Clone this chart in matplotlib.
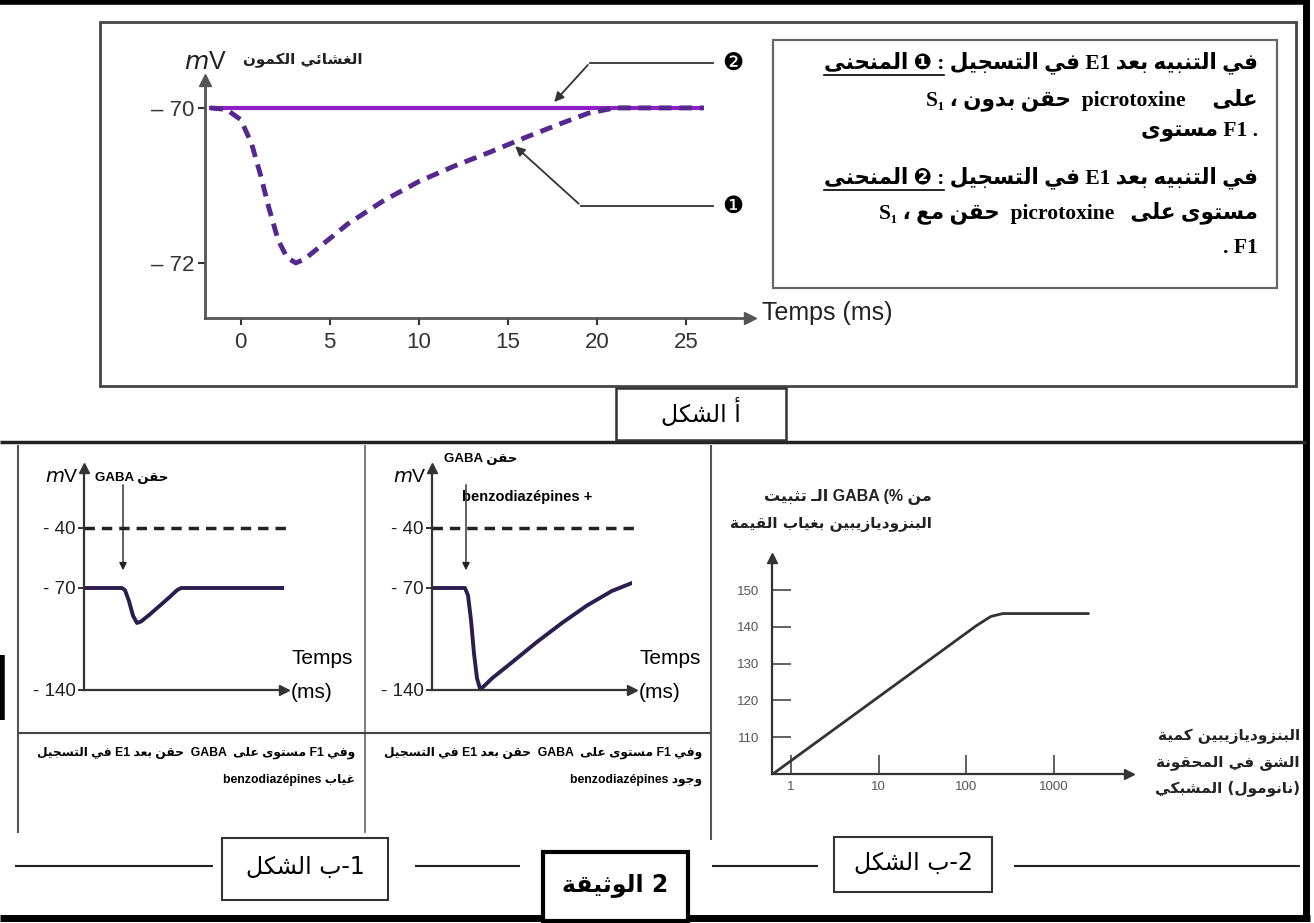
import re
import numpy as np
import matplotlib
matplotlib.use("Agg")
import matplotlib.pyplot as plt
from matplotlib.patches import Rectangle
from matplotlib.ticker import NullLocator

# %% données lues sur le document
# Figure a : potentiel membranaire (mV) en fonction du temps (ms)
t_courbe1 = [-1.7, -0.8, 0.0, 0.6, 1.1, 1.6, 2.1, 2.6, 3.1, 3.6, 4.5, 6.0, 8.0,
             10.0, 12.0, 14.0, 16.0, 18.0, 19.5, 21.0, 23.5, 26.0]
v_courbe1 = [-70.0, -70.02, -70.15, -70.45, -70.85, -71.3, -71.7, -71.93, -72.0,
             -71.95, -71.78, -71.5, -71.2, -70.95, -70.75, -70.57, -70.38, -70.2,
             -70.07, -70.0, -70.0, -70.0]
t_courbe2 = [-1.8, 26.0]
v_courbe2 = [-70.0, -70.0]
ticks_t_a = [0, 5, 10, 15, 20, 25]
ticks_v_a = [-70, -72]

# Figure b-1 : enregistrements schématiques (temps en unités arbitraires)
t_sans_bzd = [0, 3.8, 4.1, 4.5, 4.9, 5.3, 5.7, 6.6, 7.6, 8.6, 9.3, 9.7, 20.0]
v_sans_bzd = [-70, -70, -71.5, -79, -89, -94, -93, -88, -82, -76, -71.5, -70, -70]
t_avec_bzd = [0, 3.3, 3.6, 3.9, 4.2, 4.5, 4.8, 5.1, 6.0, 8.0, 10.5, 13.0, 15.5, 18.0, 20.0]
v_avec_bzd = [-70, -70, -75, -92, -115, -132, -139, -138, -132, -121, -107, -94, -82, -72, -67.5]
seuil = -40
ticks_v_b1 = [-40, -70, -140]
t_gaba = [3.9, 3.4]

# Figure b-2 : fixation du GABA (%) selon la quantité de benzodiazépines (nmol)
bzd_nmol = [0.62, 130, 190, 260, 2450]
fixation_gaba = [100, 140.3, 142.8, 143.6, 143.6]
ticks_x_b2 = [1, 10, 100, 1000]
ticks_y_b2 = [110, 120, 130, 140, 150]

# %% mise en forme de l'arabe (formes contextuelles, ordre visuel du document)
FORMES = {
    'ء': (0xFE80, 1), 'آ': (0xFE81, 2), 'أ': (0xFE83, 2), 'ؤ': (0xFE85, 2),
    'إ': (0xFE87, 2), 'ئ': (0xFE89, 4), 'ا': (0xFE8D, 2), 'ب': (0xFE8F, 4),
    'ة': (0xFE93, 2), 'ت': (0xFE95, 4), 'ث': (0xFE99, 4), 'ج': (0xFE9D, 4),
    'ح': (0xFEA1, 4), 'خ': (0xFEA5, 4), 'د': (0xFEA9, 2), 'ذ': (0xFEAB, 2),
    'ر': (0xFEAD, 2), 'ز': (0xFEAF, 2), 'س': (0xFEB1, 4), 'ش': (0xFEB5, 4),
    'ص': (0xFEB9, 4), 'ض': (0xFEBD, 4), 'ط': (0xFEC1, 4), 'ظ': (0xFEC5, 4),
    'ع': (0xFEC9, 4), 'غ': (0xFECD, 4), 'ف': (0xFED1, 4), 'ق': (0xFED5, 4),
    'ك': (0xFED9, 4), 'ل': (0xFEDD, 4), 'م': (0xFEE1, 4), 'ن': (0xFEE5, 4),
    'ه': (0xFEE9, 4), 'و': (0xFEED, 2), 'ى': (0xFEEF, 2), 'ي': (0xFEF1, 4),
}
LAM_ALEF = {'آ': 0xFEF5, 'أ': 0xFEF7, 'إ': 0xFEF9, 'ا': 0xFEFB}


def lie_suivant(u):
    genre, c = u
    if genre == 'LA':
        return False
    if c == 'ـ':
        return True
    return FORMES[c][1] == 4


def forme_mot(mot):
    unites = []
    i = 0
    while i < len(mot):
        if mot[i] == 'ل' and i + 1 < len(mot) and mot[i + 1] in LAM_ALEF:
            unites.append(('LA', mot[i + 1]))
            i += 2
        else:
            unites.append(('C', mot[i]))
            i += 1
    sortie = []
    for k, (genre, c) in enumerate(unites):
        avant = k > 0 and lie_suivant(unites[k - 1])
        apres = k + 1 < len(unites)
        if genre == 'LA':
            sortie.append(chr(LAM_ALEF[c] + (1 if avant else 0)))
            continue
        if c == 'ـ':
            sortie.append(c)
            continue
        base, n = FORMES[c]
        if n == 1:
            f = 0
        elif n == 2:
            f = 1 if avant else 0
        else:
            f = {(0, 0): 0, (1, 0): 1, (0, 1): 2, (1, 1): 3}[(int(avant), int(apres))]
        sortie.append(chr(base + f))
    return ''.join(reversed(sortie))


def ar(s):
    return re.sub('[\u0621-\u064A\u0640]+', lambda m: forme_mot(m.group(0)), s)


# %% figure
W, H = 1314, 923
fig = plt.figure(figsize=(W / 100, H / 100), dpi=100)
bg = fig.add_axes([0, 0, 1, 1], zorder=0)
bg.set_xlim(0, W)
bg.set_ylim(H, 0)
bg.axis("off")

AR = ["DejaVu Sans"]
MIX = ["Liberation Sans", "DejaVu Sans"]
SERIF = ["Liberation Serif", "DejaVu Sans"]


def ax_px(x0, y0, x1, y1):
    a = fig.add_axes([x0 / W, 1 - y1 / H, (x1 - x0) / W, (y1 - y0) / H], zorder=2)
    a.set_facecolor("none")
    return a


def trait(x, y, c="#222222", lw=1.5):
    bg.plot(x, y, color=c, lw=lw, solid_capstyle="butt")


def boite(x0, y0, x1, y1, lw=1.5, c="#333333"):
    bg.add_patch(Rectangle((x0, y0), x1 - x0, y1 - y0, fc="white", ec=c, lw=lw, zorder=3))


def axes_fleches(a, c="#444444", lw=2.0, ms=8):
    for s in ["top", "right"]:
        a.spines[s].set_visible(False)
    for s in ["left", "bottom"]:
        a.spines[s].set_color(c)
        a.spines[s].set_linewidth(lw)
    a.plot(1, 0, ">", color=c, ms=ms, transform=a.transAxes, clip_on=False)
    a.plot(0, 1, "^", color=c, ms=ms, transform=a.transAxes, clip_on=False)


# cadres
trait([0, 1310], [1.5, 1.5], "black", 4)
trait([1306, 1306], [0, 921], "black", 5)
trait([0, 1310], [918, 918], "black", 5)
trait([1.5, 1.5], [655, 720], "black", 4)
bg.add_patch(Rectangle((100, 22), 1196, 364, fill=False, ec="#444444", lw=2))
bg.add_patch(Rectangle((773, 40), 504, 248, fill=False, ec="#666666", lw=1.6))
trait([0, 1306], [442, 442], "#222222", 2.5)
trait([18, 18], [445, 833], "#555555", 1.5)
trait([365, 365], [445, 833], "#666666", 1.2)
trait([711, 711], [445, 840], "#555555", 1.5)
trait([18, 711], [733, 733], "#444444", 1.5)
for xa, xb in [(15, 213), (415, 520), (712, 818), (1014, 1300)]:
    trait([xa, xb], [866, 866], "#222222", 1.5)

boite(616, 388, 786, 440, 1.8)
bg.text(701, 413, ar("الشكل أ"), fontsize=17, family=AR, ha="center", va="center", zorder=4)
boite(222, 838, 388, 900)
bg.text(305, 867, ar("الشكل ب-1"), fontsize=17, family=AR, ha="center", va="center", zorder=4)
boite(543, 852, 688, 921, 3, "black")
bg.text(615, 885, ar("الوثيقة 2"), fontsize=17, family=AR, fontweight="bold",
        ha="center", va="center", zorder=4)
boite(834, 837, 992, 892)
bg.text(913, 863, ar("الشكل ب-2"), fontsize=17, family=AR, ha="center", va="center", zorder=4)

# %% figure a
ax = ax_px(205, 80, 750, 318)
ax.plot(t_courbe2, v_courbe2, color="#8e1fc6", lw=3, solid_capstyle="butt")
ax.plot(t_courbe1, v_courbe1, color="#55288f", lw=3.5, dashes=(2.6, 1.6))
ax.set_xlim(-2, 28.6)
ax.set_ylim(-72.71, -69.64)
axes_fleches(ax, "#555555")
ax.set_xticks(ticks_t_a)
ax.set_xticklabels([str(t) for t in ticks_t_a])
ax.set_yticks(ticks_v_a)
ax.set_yticklabels(["– " + str(-v) for v in ticks_v_a])
ax.tick_params(axis="x", labelsize=16, colors="#333333", length=5, width=1.5, pad=5)
ax.tick_params(axis="y", labelsize=16, colors="#333333", length=5, width=1.5, pad=3)
for lab in ax.get_xticklabels() + ax.get_yticklabels():
    lab.set_family(MIX)

# flèches des courbes 1 et 2
ax.plot([26.5, 19.6], [-69.42, -69.42], color="#333333", lw=1.3, clip_on=False)
ax.annotate("", xy=(17.5, -69.95), xytext=(19.6, -69.42),
            arrowprops=dict(arrowstyle="-|>", color="#333333", lw=1.3, mutation_scale=14),
            annotation_clip=False)
ax.plot([26.5, 19.1], [-71.26, -71.26], color="#333333", lw=1.3, clip_on=False)
ax.annotate("", xy=(15.3, -70.47), xytext=(19.1, -71.26),
            arrowprops=dict(arrowstyle="-|>", color="#333333", lw=1.3, mutation_scale=14),
            annotation_clip=False)
bg.text(733, 63, "❷", fontsize=17, family=AR, ha="center", va="center")
bg.text(733, 206, "❶", fontsize=17, family=AR, ha="center", va="center")

bg.text(227, 62, "$m$V", fontsize=18, family=MIX, ha="right", va="center", color="#222222")
bg.text(243, 60, ar("الكمون الغشائي"), fontsize=11, family=AR, fontweight="bold",
        ha="left", va="center", color="#222222")
bg.text(762, 313, "Temps (ms)", fontsize=18, family=MIX, ha="left", va="center", color="#222222")

# légende
lignes = [
    (63, "المنحنى ❶ : التسجيل في E1 بعد التنبيه في", "المنحنى ❶ :"),
    (100, "S₁ ، بدون حقن  picrotoxine     على", None),
    (131, "مستوى F1 .", None),
    (178, "المنحنى ❷ : التسجيل في E1 بعد التنبيه في", "المنحنى ❷ :"),
    (213, "S₁ ، مع حقن  picrotoxine   على مستوى", None),
    (248, ". F1", None),
]
objets = []
for y, s, souligne in lignes:
    o = bg.text(1258, y, ar(s), fontsize=15.5, family=SERIF, fontweight="bold",
                ha="right", va="center")
    objets.append((o, souligne))

# %% figure b-1
def fwd(v):
    v = np.asarray(v, dtype=float)
    return np.where(v <= -70, (v + 140) * 102 / 70, 102 + (v + 70) * 2.0)


def inv(p):
    p = np.asarray(p, dtype=float)
    return np.where(p <= 102, p * 70 / 102 - 140, -70 + (p - 102) / 2.0)


panneaux = [(84, t_sans_bzd, v_sans_bzd, t_gaba[0]), (432, t_avec_bzd, v_avec_bzd, t_gaba[1])]
for x0, tt, vv, tg in panneaux:
    a = ax_px(x0, 468, x0 + 200, 690)
    a.set_yscale("function", functions=(fwd, inv))
    a.set_ylim(-140, -10)
    a.set_xlim(0, 20.0)
    a.plot([0, 20.2], [seuil, seuil], color="#222222", lw=2.5, dashes=(3, 2), clip_on=False)
    a.plot(tt, vv, color="#2b1d4d", lw=2.8)
    axes_fleches(a, "#333333", 1.6, 7)
    a.set_xticks([])
    a.set_yticks(ticks_v_b1)
    a.set_yticklabels(["- " + str(-v) for v in ticks_v_b1])
    a.yaxis.set_minor_locator(NullLocator())
    a.tick_params(axis="y", labelsize=13.5, colors="#222222", length=4, width=1.3, pad=2)
    for lab in a.get_yticklabels():
        lab.set_family(MIX)
    a.annotate("", xy=(tg, -62.5), xytext=(tg, -17),
               arrowprops=dict(arrowstyle="-|>", color="#222222", lw=1.0, mutation_scale=11))
    bg.text(x0 - 5, 478, "$m$V", fontsize=14, family=MIX, ha="right", va="center")
    bg.text(x0 + 207, 658, "Temps", fontsize=15, family=MIX, ha="left", va="center")
    bg.text(x0 + 207, 692, "(ms)", fontsize=15, family=MIX, ha="left", va="center")

bg.text(95, 478, ar("GABA حقن"), fontsize=9.5, family=MIX, fontweight="bold", ha="left", va="center")
bg.text(444, 459, ar("GABA حقن"), fontsize=9.5, family=MIX, fontweight="bold", ha="left", va="center")
bg.text(462, 497, "benzodiazépines +", fontsize=10.5, family=MIX, fontweight="bold", ha="left", va="center")

for xd, mot in [(355, "غياب"), (702, "وجود")]:
    bg.text(xd, 753, ar("التسجيل في E1 بعد حقن  GABA  على مستوى F1 وفي"), fontsize=8.8,
            family=MIX, fontweight="bold", ha="right", va="center")
    bg.text(xd, 780, ar("benzodiazépines " + mot), fontsize=8.8, family=MIX, fontweight="bold",
            ha="right", va="center")

# %% figure b-2
a2 = ax_px(772, 558, 1129, 774)
a2.plot(bzd_nmol, fixation_gaba, color="#333333", lw=2)
a2.set_xscale("log")
a2.set_xlim(0.607, 7170)
a2.set_ylim(100, 158.7)
axes_fleches(a2, "#333333", 1.6, 7)
a2.set_xticks(ticks_x_b2)
a2.set_xticklabels([str(x) for x in ticks_x_b2])
a2.xaxis.set_minor_locator(NullLocator())
a2.set_yticks(ticks_y_b2)
a2.set_yticklabels([str(y) for y in ticks_y_b2])
a2.tick_params(direction="in", length=14, width=1.3, colors="#555555", labelsize=9.5)
a2.tick_params(axis="y", pad=9)
a2.tick_params(axis="x", pad=5)
for lab in a2.get_xticklabels() + a2.get_yticklabels():
    lab.set_family(MIX)

bg.text(932, 497, ar("تثبيت الـ GABA (% من"), fontsize=11.5, family=MIX, fontweight="bold",
        ha="right", va="center", color="#222222")
bg.text(932, 525, ar("القيمة بغياب البنزوديازيبين"), fontsize=11, family=AR, fontweight="bold",
        ha="right", va="center", color="#222222")
for y, s in [(736, "كمية البنزوديازيبين"), (762, "المحقونة في الشق"), (788, "المشبكي (نانومول)")]:
    bg.text(1300, y, ar(s), fontsize=11, family=AR, fontweight="bold", ha="right",
            va="center", color="#222222")

# soulignement de "المنحنى"
fig.canvas.draw()
rend = fig.canvas.get_renderer()
for o, souligne in objets:
    if souligne is None:
        continue
    bb = o.get_window_extent(rend)
    tmp = bg.text(0, 0, ar(souligne), fontsize=15.5, family=SERIF, fontweight="bold")
    largeur = tmp.get_window_extent(rend).width
    tmp.remove()
    yb = H - bb.y0 + 1
    bg.plot([bb.x0, bb.x0 + largeur], [yb, yb], color="black", lw=1.2)

fig.savefig("out.png", dpi=100)
